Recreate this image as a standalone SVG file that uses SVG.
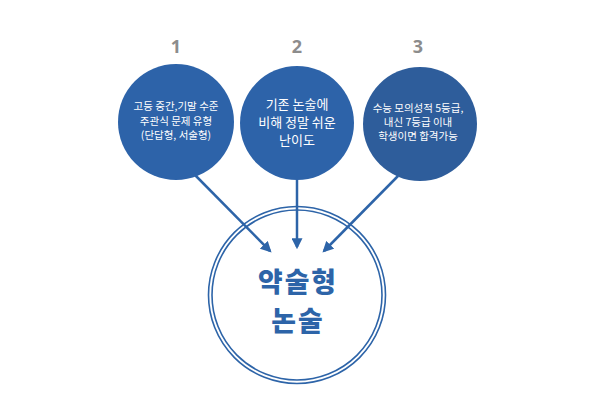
<svg xmlns="http://www.w3.org/2000/svg" width="600" height="413" viewBox="0 0 600 413">
<defs>
<style>
.num{font-family:"Noto Sans","Liberation Sans",sans-serif;font-weight:700;font-size:18px;fill:#8c8c8c;text-anchor:middle}
.t{font-family:"Noto Sans CJK KR","Noto Sans",sans-serif;fill:#ffffff;text-anchor:middle}
.s{font-size:10.5px}
.m{font-size:13px}
.big{font-family:"Noto Sans CJK KR",sans-serif;font-weight:900;font-size:26.8px;fill:#2d64a8;text-anchor:middle;letter-spacing:2px}
.conn{stroke:#2d64a8;stroke-width:2.5;fill:none;marker-end:url(#ah)}
</style>
<marker id="ah" viewBox="0 0 10 10" refX="8" refY="5" markerWidth="4.4" markerHeight="4.4" orient="auto" markerUnits="strokeWidth">
<path d="M0,0 L10,5 L0,10 z" fill="#2d64a8"/>
</marker>
</defs>
<rect width="600" height="413" fill="#ffffff"/>
<g id="connectors">
<line class="conn" x1="194" y1="174" x2="270" y2="251"/>
<line class="conn" x1="297" y1="178" x2="297" y2="247"/>
<line class="conn" x1="398" y1="176" x2="324" y2="251"/>
</g>
<g id="node1">
<text class="num" x="176" y="53">1</text>
<circle cx="176" cy="122" r="58" fill="#2d63a9"/>
<text class="t s" x="176" y="110">고등 중간,기말 수준</text>
<text class="t s" x="176" y="125">주관식 문제 유형</text>
<text class="t s" x="176" y="139">(단답형, 서술형)</text>
</g>
<g id="node2">
<text class="num" x="297" y="53">2</text>
<circle cx="297" cy="123" r="57" fill="#2d63a9"/>
<text class="t m" x="297" y="109">기존 논술에</text>
<text class="t m" x="297" y="127">비해 정말 쉬운</text>
<text class="t m" x="297" y="145">난이도</text>
</g>
<g id="node3">
<text class="num" x="418" y="53">3</text>
<circle cx="420" cy="124" r="57" fill="#2e5d9b"/>
<text class="t s" x="418" y="112">수능 모의성적 5등급,</text>
<text class="t s" x="418" y="126">내신 7등급 이내</text>
<text class="t s" x="418" y="140">학생이면 합격가능</text>
</g>
<g id="center">
<circle cx="297" cy="295" r="88.5" fill="none" stroke="#2d64a8" stroke-width="1.6"/>
<circle cx="297" cy="295" r="85" fill="none" stroke="#2d64a8" stroke-width="1.6"/>
<text class="big" x="298" y="292">약술형</text>
<text class="big" x="298" y="331">논술</text>
</g>
</svg>
